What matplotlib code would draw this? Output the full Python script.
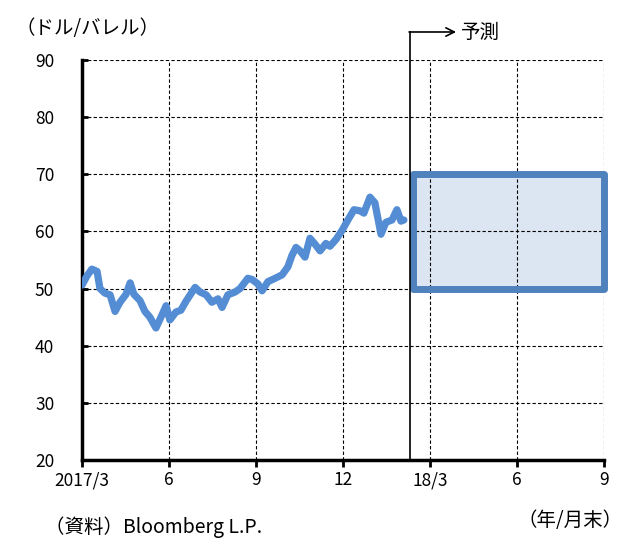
import matplotlib
matplotlib.use("Agg")
import matplotlib.pyplot as plt
from matplotlib.patches import Rectangle

plt.rcParams['font.family'] = ['Noto Sans CJK JP', 'DejaVu Sans']

# months elapsed since 2017/3 and the oil price (USD/bbl)
months = [0.0, 0.17, 0.34, 0.52, 0.62, 0.79, 0.97, 1.14, 1.31, 1.52, 1.66, 1.79,
          2.0, 2.17, 2.34, 2.55, 2.76, 2.9, 3.03, 3.24, 3.41, 3.59, 3.9, 4.07,
          4.28, 4.48, 4.69, 4.83, 5.03, 5.28, 5.45, 5.72, 5.86, 6.07, 6.21, 6.41,
          6.66, 6.9, 7.1, 7.24, 7.38, 7.52, 7.69, 7.86, 8.03, 8.21, 8.41, 8.55,
          8.76, 8.97, 9.17, 9.38, 9.59, 9.72, 9.93, 10.1, 10.31, 10.48, 10.69,
          10.86, 11.0, 11.1]
price = [50.6, 52.2, 53.4, 53.0, 50.0, 49.2, 48.9, 46.0, 47.6, 49.0, 51.0, 49.0,
         47.9, 46.0, 45.0, 43.1, 45.4, 47.0, 44.5, 45.9, 46.2, 47.8, 50.2, 49.4,
         48.9, 47.6, 48.2, 46.7, 48.9, 49.4, 50.0, 51.8, 51.6, 50.8, 49.6, 51.2,
         51.8, 52.4, 53.8, 55.8, 57.2, 56.6, 55.5, 58.8, 57.8, 56.6, 57.9, 57.4,
         58.6, 60.2, 62.0, 63.8, 63.6, 63.2, 66.0, 65.0, 59.5, 61.6, 62.0, 63.8,
         61.8, 62.0]

tick_pos = [0, 3, 6, 9, 12, 15, 18]
tick_labels = ['2017/3', '6', '9', '12', '18/3', '6', '9']

forecast_start = 11.31
forecast_end = 18
forecast_low = 50
forecast_high = 70

fig = plt.figure(figsize=(6.23, 5.39), dpi=100)
ax = fig.add_axes([0.1316, 0.1466, 0.8379, 0.7421])

ax.plot(months, price, color='#548DD4', lw=5.2, solid_capstyle='round',
        solid_joinstyle='round', zorder=4)

# forecast range box: fill under grid, edge above
ax.add_patch(Rectangle((forecast_start + 0.1, forecast_low),
                       forecast_end - forecast_start - 0.1, forecast_high - forecast_low,
                       facecolor='#DCE6F2', edgecolor='none', zorder=0.5))
ax.add_patch(Rectangle((forecast_start + 0.1, forecast_low),
                       forecast_end - forecast_start - 0.1, forecast_high - forecast_low,
                       facecolor='none', edgecolor='#4F81BD', lw=5, zorder=3,
                       joinstyle='round', clip_on=False))

# forecast marker line with arrow
ax.plot([forecast_start, forecast_start], [20, 94.9], color='black', lw=1.2,
        clip_on=False, zorder=5)
ax.annotate('', xy=(12.9, 94.9), xytext=(forecast_start - 0.03, 94.9),
            annotation_clip=False,
            arrowprops=dict(arrowstyle='->', color='black', lw=1.2,
                            shrinkA=0, shrinkB=0, mutation_scale=15))
ax.text(13.05, 94.9, '予測', fontsize=14, va='center', ha='left')

ax.set_xlim(0, 18)
ax.set_ylim(20, 90)
ax.set_xticks(tick_pos)
ax.set_xticklabels(tick_labels, fontsize=12.5)
ax.set_yticks(range(20, 91, 10))
ax.tick_params(axis='y', labelsize=12.5, direction='in', length=4, width=2, pad=20)
ax.tick_params(axis='x', direction='out', length=5, width=2, pad=3)

ax.grid(True, color='black', lw=0.8, linestyle=(0, (3, 2)))
ax.set_axisbelow(False)
for gl in ax.get_xgridlines() + ax.get_ygridlines():
    gl.set_zorder(1)

ax.spines['top'].set_visible(False)
ax.spines['right'].set_visible(False)
ax.spines['left'].set_linewidth(2.5)
ax.spines['bottom'].set_linewidth(2.5)

fig.text(0.025, 0.948, '（ドル/バレル）', fontsize=14, va='center', ha='left')
fig.text(0.072, 0.022, '（資料）Bloomberg L.P.', fontsize=14, va='center', ha='left')
fig.text(0.999, 0.035, '（年/月末）', fontsize=14, va='center', ha='right')

fig.savefig('out.png', dpi=100)
